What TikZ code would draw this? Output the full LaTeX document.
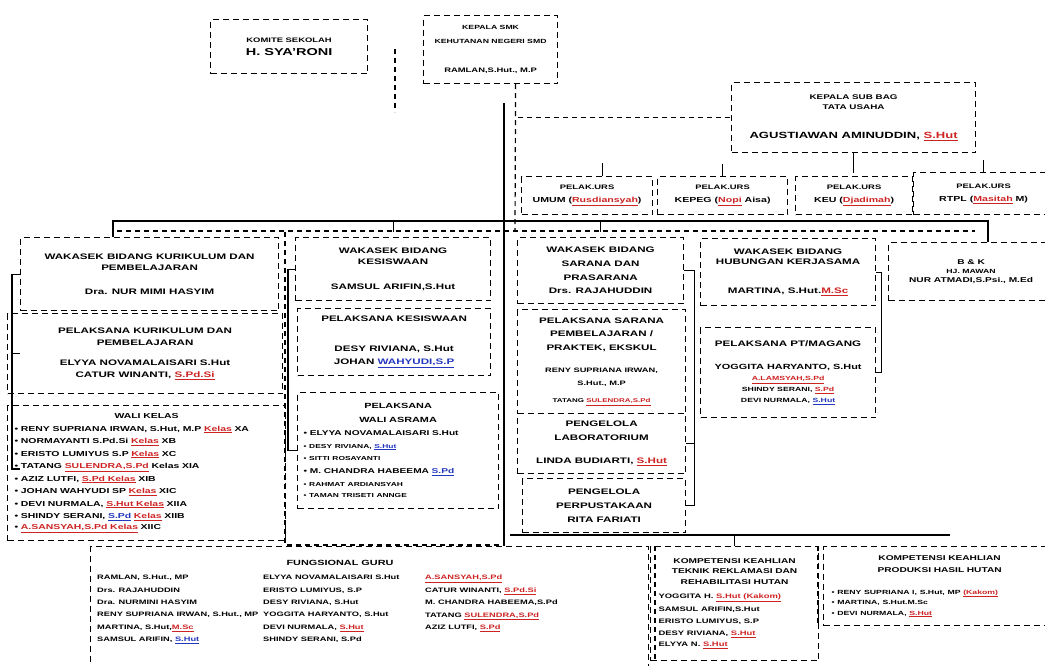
\documentclass[tikz,border=0pt]{standalone}
\usepackage{fontspec}
\setmainfont{Liberation Sans}[FakeStretch=1.45]
\usepackage{xcolor}
\usetikzlibrary{positioning, calc}

\definecolor{merah}{RGB}{205,35,35}
\definecolor{biru}{RGB}{35,55,190}
\newcommand{\ejaan}[1]{\textcolor{merah}{\underline{#1}}}
\newcommand{\ejaanb}[1]{\textcolor{biru}{\underline{#1}}}
\newcommand{\huruf}[2]{\fontsize{#1}{#2}\selectfont}

\tikzset{
  kotak/.style={draw, line width=1.2pt, dash pattern=on 6pt off 4pt, anchor=north west,
    align=center, inner sep=2pt, font=\bfseries\huruf{8}{11}},
  garis/.style={line width=1.2pt},
  putus/.style={line width=1.2pt, dash pattern=on 5pt off 4pt},
  nama/.style={anchor=north west, align=left, inner sep=0pt, font=\bfseries\huruf{6.4}{12.4}},
}

\begin{document}
\begin{tikzpicture}[x=1pt, y=-1pt]
\useasboundingbox (0,0) rectangle (1045,666);

% Pimpinan y komite
\node[kotak, minimum width=157pt, minimum height=54pt, font=\bfseries\huruf{6.5}{13}] (komite) at (210,19)
  {KOMITE SEKOLAH\\\huruf{10}{13}H. SYA'RONI};
\node[kotak, minimum width=134pt, minimum height=68pt, font=\bfseries\huruf{6}{14}] (kepala) at (423,15)
  {KEPALA SMK\\KEHUTANAN NEGERI SMD\\[15pt]\huruf{6.5}{14}RAMLAN,S.Hut., M.P};
\node[kotak, minimum width=244pt, minimum height=70pt, font=\bfseries\huruf{6.8}{10}] (subbag) at (731,82)
  {KEPALA SUB BAG\\TATA USAHA\\[19pt]\huruf{9}{10}AGUSTIAWAN AMINUDDIN, \ejaan{S.Hut}};

% Pelaksana urusan
\node[kotak, minimum width=131pt, minimum height=38pt, font=\bfseries\huruf{6.5}{13}] (p1) at (521,176)
  {PELAK.URS\\\huruf{7.3}{13}UMUM (\ejaan{Rusdiansyah})};
\node[kotak, minimum width=130pt, minimum height=38pt, font=\bfseries\huruf{6.5}{13}] (p2) at (657,176)
  {PELAK.URS\\\huruf{7.3}{13}KEPEG (\ejaan{Nopi} Aisa)};
\node[kotak, minimum width=117pt, minimum height=38pt, font=\bfseries\huruf{6.5}{13}] (p3) at (795,176)
  {PELAK.URS\\\huruf{7.3}{13}KEU (\ejaan{Djadimah})};
\node[kotak, minimum width=140pt, minimum height=42pt, font=\bfseries\huruf{6.5}{13}] (p4) at (913,172)
  {PELAK.URS\\\huruf{7.3}{13}RTPL (\ejaan{Masitah} M)};

% Kurikulum
\node[kotak, minimum width=258pt, minimum height=73pt] (wk1) at (20,237)
  {WAKASEK BIDANG KURIKULUM DAN\\PEMBELAJARAN\\[13pt]Dra. NUR MIMI HASYIM};
\node[kotak, minimum width=275pt, minimum height=80pt, font=\bfseries\huruf{8}{12}] (pk1) at (7,313)
  {PELAKSANA KURIKULUM DAN\\PEMBELAJARAN\\[8pt]ELYYA NOVAMALAISARI S.Hut\\CATUR WINANTI, \ejaan{S.Pd.Si}};
\node[kotak, minimum width=278pt, minimum height=135pt, text width=264pt, inner xsep=6pt, align=left] (wali) at (7,405)
  {\huruf{7.2}{12.5}{\centering WALI KELAS\par}
  • RENY SUPRIANA IRWAN, S.Hut, M.P \ejaan{Kelas} XA\\
  • NORMAYANTI S.Pd.Si \ejaan{Kelas} XB\\
  • ERISTO LUMIYUS S.P \ejaan{Kelas} XC\\
  • TATANG \ejaan{SULENDRA,S.Pd} Kelas XIA\\
  • AZIZ LUTFI, \ejaan{S.Pd Kelas} XIB\\
  • JOHAN WAHYUDI SP \ejaan{Kelas} XIC\\
  • DEVI NURMALA, \ejaan{S.Hut Kelas} XIIA\\
  • SHINDY SERANI, \ejaanb{S.Pd} \ejaan{Kelas} XIIB\\
  • \ejaan{A.SANSYAH,S.Pd Kelas} XIIC};

% Kesiswaan
\node[kotak, minimum width=195pt, minimum height=63pt] (wk2) at (295,237)
  {WAKASEK BIDANG\\KESISWAAN\\[14pt]SAMSUL ARIFIN,S.Hut};
\node[kotak, minimum width=193pt, minimum height=67pt, font=\bfseries\huruf{8}{13}] (pk2) at (297,308)
  {PELAKSANA KESISWAAN\\[17pt]DESY RIVIANA, S.Hut\\JOHAN \ejaanb{WAHYUDI,S.P}};
\node[kotak, minimum width=201pt, minimum height=116pt, text width=189pt, inner xsep=6pt, align=left] (asrama) at (297,392)
  {\huruf{7.5}{13.5}{\centering PELAKSANA\\WALI ASRAMA\par}
  \huruf{7}{12.8}• ELYYA NOVAMALAISARI S.Hut\\
  {\huruf{5.8}{12.8}• DESY RIVIANA, \ejaanb{S.Hut}}\\
  {\huruf{5.8}{12.8}• SITTI ROSAYANTI}\\
  • M. CHANDRA HABEEMA \ejaanb{S.Pd}\\
  {\huruf{5.8}{12.8}• RAHMAT ARDIANSYAH}\\
  {\huruf{5.8}{12.8}• TAMAN TRISETI ANNGE}};

% Sarana
\node[kotak, minimum width=166pt, minimum height=66pt, font=\bfseries\huruf{8}{13.7}] (wk3) at (517,237)
  {WAKASEK BIDANG\\SARANA DAN\\PRASARANA\\Drs. RAJAHUDDIN};
\node[kotak, minimum width=168pt, minimum height=104pt, font=\bfseries\huruf{8}{13.5}] (pk3) at (517,309)
  {PELAKSANA SARANA\\PEMBELAJARAN /\\PRAKTEK, EKSKUL\\[8.5pt]\huruf{6.4}{13.5}RENY SUPRIANA IRWAN,\\
   \huruf{6.4}{13.5}S.Hut., M.P\\[3.5pt]\huruf{5.5}{13.5}TATANG \ejaan{SULENDRA,S.Pd}};
\node[kotak, minimum width=168pt, minimum height=60pt, font=\bfseries\huruf{8}{14}] (lab) at (517,413)
  {PENGELOLA\\LABORATORIUM\\[9pt]LINDA BUDIARTI, \ejaan{S.Hut}};
\node[kotak, minimum width=163pt, minimum height=54pt, font=\bfseries\huruf{8}{14}] (perpus) at (522,478)
  {PENGELOLA\\PERPUSTAKAAN\\RITA FARIATI};

% Hubungan kerjasama y BK
\node[kotak, minimum width=175pt, minimum height=67pt, font=\bfseries\huruf{8}{10}] (wk4) at (700,238)
  {WAKASEK BIDANG\\HUBUNGAN KERJASAMA\\[19pt]MARTINA, S.Hut.\ejaan{M.Sc}};
\node[kotak, minimum width=175pt, minimum height=90pt, font=\bfseries\huruf{6}{11}] (pk4) at (700,327)
  {\huruf{8}{11}PELAKSANA PT/MAGANG\\[12pt]\huruf{7.5}{11}YOGGITA HARYANTO, S.Hut\\\ejaan{A.LAMSYAH,S.Pd}\\
   SHINDY SERANI, \ejaan{S.Pd}\\DEVI NURMALA, \ejaanb{S.Hut}};
\node[kotak, minimum width=165pt, minimum height=58pt, font=\bfseries\huruf{7}{9}] (bk) at (888,242)
  {B \& K\\\huruf{6}{9}HJ. MAWAN\\NUR ATMADI,S.Psi., M.Ed};

% Fila inferior
\node[kotak, minimum width=558pt, minimum height=135pt] (fungsi) at (90,546) {};
\node[anchor=center, inner sep=0pt, font=\bfseries\huruf{7.5}{9}] (judulfg) at (340,563) {FUNGSIONAL GURU};
\node[nama] (kol1) at (97,575)
  {RAMLAN, S.Hut., MP\\Drs. RAJAHUDDIN\\Dra. NURMINI HASYIM\\RENY SUPRIANA IRWAN, S.Hut., MP\\
   MARTINA, S.Hut,\ejaan{M.Sc}\\SAMSUL ARIFIN, \ejaanb{S.Hut}};
\node[nama] (kol2) at (263,575)
  {ELYYA NOVAMALAISARI S.Hut\\ERISTO LUMIYUS, S.P\\DESY RIVIANA, S.Hut\\YOGGITA HARYANTO, S.Hut\\
   DEVI NURMALA, \ejaan{S.Hut}\\SHINDY SERANI, S.Pd};
\node[nama] (kol3) at (425,575)
  {\ejaan{A.SANSYAH,S.Pd}\\CATUR WINANTI, \ejaan{S.Pd.Si}\\M. CHANDRA HABEEMA,S.Pd\\
   TATANG \ejaan{SULENDRA,S.Pd}\\AZIZ LUTFI, \ejaan{S.Pd}};
\node[kotak, minimum width=168pt, minimum height=114pt, text width=152pt, inner xsep=8pt, align=left] (kt) at (650,546)
  {\huruf{7}{10.5}{\centering KOMPETENSI KEAHLIAN\\TEKNIK REKLAMASI DAN\\REHABILITASI HUTAN\par}
  \vspace{2pt}\huruf{6.5}{12.3}YOGGITA H. \ejaan{S.Hut (Kakom)}\\SAMSUL ARIFIN,S.Hut\\
  ERISTO LUMIYUS, S.P\\DESY RIVIANA, \ejaan{S.Hut}\\ELYYA N. \ejaan{S.Hut}};
\node[kotak, minimum width=232pt, minimum height=79pt, text width=216pt, inner xsep=8pt, align=left] (kp) at (823,546)
  {\huruf{7}{12}{\centering KOMPETENSI KEAHLIAN\\PRODUKSI HASIL HUTAN\par}
  \vspace{12pt}\huruf{6}{10}• RENY SUPRIANA I, S.Hut, MP \ejaan{(Kakom)}\\
  • MARTINA, S.Hut.M.Sc\\• DEVI NURMALA, \ejaan{S.Hut}};

% Coordenadas de las lineas
\coordinate (batang) at (504,103);
\coordinate (ki) at (113,221);
\coordinate (ka) at (988,221);
\coordinate (kr) at (12,469);
\coordinate (kom) at (395,49);
\coordinate (g2a) at (285,232);
\coordinate (g2b) at (500,545);
\coordinate (bwa) at (510,535);
\coordinate (bwb) at (950,535);
\coordinate (tp) at (515,231);

% Lineas de mando
\draw[putus] ([xshift=25pt]kepala.south) |- (subbag.west);
\draw[putus] ([xshift=25pt]kepala.south) -- (tp);
\draw[putus] (kom) -- ++(0,63);
\draw[garis] (batang) -- (batang |- fungsi.north);
\draw[garis] (subbag.south) -- ++(0,20);
\draw[garis] ([xshift=15pt]p1.north) -- ++(0,-13);
\foreach \p in {p2,p4} {
  \draw[garis] (\p.north) -- ++(0,-12);
}
\draw[garis] (ki |- wk1.north) -- (ki) -- (ka) -- (ka |- bk.north);
\draw[putus] ([shift={(4,10)}]ki) -- ([shift={(-13,10)}]ka);
\foreach \w in {wk2,wk3} {
  \draw[garis] (\w.north |- ki) -- ++(0,11);
}

% Corchetes de cada bidang
\draw[garis] (wk1.west) -| (kr) -- ++(8,0);
\draw[garis] (kr |- pk1.west) -- ++(8,0);
\draw[garis] (wk2.west) -| ([xshift=-9pt]asrama.west) -- (asrama.west);
\draw[putus] (g2a) |- (g2b);
\draw[garis] (wk3.east) -| ([xshift=8pt]perpus.east) -- (perpus.east);
\draw[garis] (lab.east) -- ++(8,0);
\draw[garis] (wk4.east) -| ([xshift=5pt]pk4.east) -- (pk4.east);

% Fila de kompetensi
\draw[garis] (bwa) -- (bwb);
\draw[garis] (kt.north) -- (kt.north |- bwa);
\draw[putus] ([xshift=5pt]kt.north west) -- ([xshift=5pt]kt.south west);
\draw[putus] ([xshift=-5pt]kp.north west) -- ([xshift=-5pt]kp.south west);
\end{tikzpicture}
\end{document}
